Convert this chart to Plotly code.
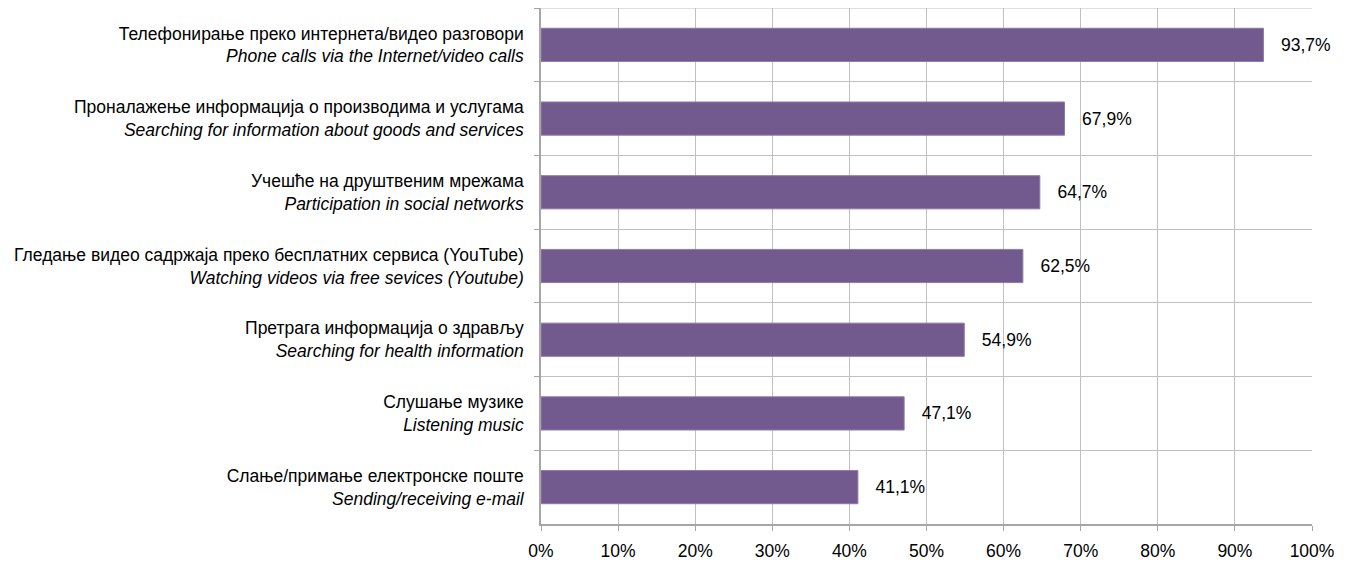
import plotly.graph_objects as go

labels_sr = [
    "Телефонирање преко интернета/видео разговори",
    "Проналажење информација о производима и услугама",
    "Учешће на друштвеним мрежама",
    "Гледање видео садржаја преко бесплатних сервиса (YouTube)",
    "Претрага информација о здрављу",
    "Слушање музике",
    "Слање/примање електронске поште",
]
labels_en = [
    "Phone calls via the Internet/video calls",
    "Searching for information about goods and services",
    "Participation in social networks",
    "Watching videos via free sevices (Youtube)",
    "Searching for health information",
    "Listening music",
    "Sending/receiving e-mail",
]
values = [93.7, 67.9, 64.7, 62.5, 54.9, 47.1, 41.1]
x_ticks = [0, 10, 20, 30, 40, 50, 60, 70, 80, 90, 100]
x_tick_labels = [f"{t}%" for t in x_ticks]

categories = [f"{s}<br><i>{e}</i>" for s, e in zip(labels_sr, labels_en)]

FONT = "Liberation Sans, Arial, sans-serif"
FS = 17.5

fig = go.Figure(go.Bar(
    x=values,
    y=categories,
    orientation="h",
    marker=dict(color="#725A8E", line=dict(color="#8C7AA6", width=1)),
    texttemplate="   %{x:.1f}%",
    textposition="outside",
    textfont=dict(family=FONT, size=FS, color="#000000"),
    cliponaxis=False,
    width=0.45,
))

fig.update_layout(
    width=1347, height=563,
    margin=dict(l=533, r=43, t=0, b=47),
    paper_bgcolor="white", plot_bgcolor="white",
    separators=",.",
    showlegend=False,
    font=dict(family=FONT, size=FS, color="#000000"),
)
fig.update_xaxes(
    range=[0, 100],
    tickvals=x_ticks, ticktext=x_tick_labels,
    showgrid=True, gridcolor="#C0C0C0", gridwidth=1,
    showline=True, linecolor="#A6A6A6", linewidth=1.5,
    ticks="outside", ticklen=5, tickcolor="#A6A6A6",
    ticklabelstandoff=5,
    zeroline=False,
    automargin=False,
    tickfont=dict(family=FONT, size=FS),
)
fig.update_yaxes(
    autorange="reversed",
    tickson="boundaries",
    showgrid=True, gridcolor="#C0C0C0", gridwidth=1,
    showline=True, linecolor="#A6A6A6", linewidth=1.5,
    ticks="outside", ticklen=5, tickcolor="#A6A6A6",
    ticklabelstandoff=12,
    automargin=False,
    tickfont=dict(family=FONT, size=FS),
)
fig.add_shape(type="line", xref="paper", yref="paper", x0=0, x1=1, y0=1, y1=1,
              line=dict(color="#C0C0C0", width=1))

fig.write_html("out.html")
